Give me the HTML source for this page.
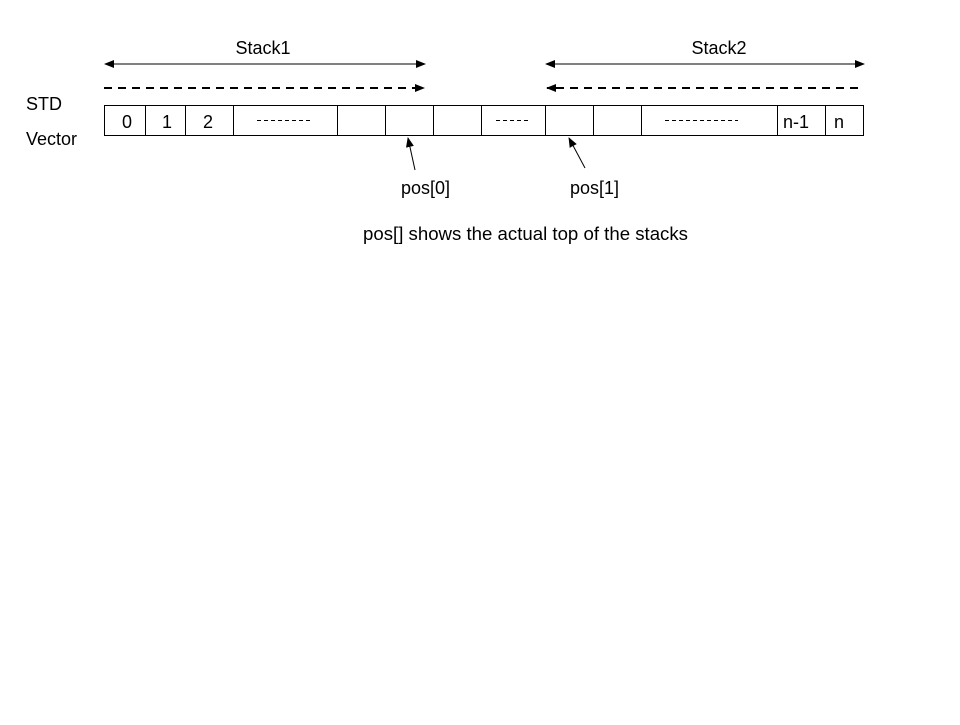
<!DOCTYPE html>
<html><head><style>body{margin:0;background:#fff}</style></head><body>
<svg width="960" height="720" xmlns="http://www.w3.org/2000/svg" font-family="Liberation Sans, Arial, sans-serif" font-size="18">
<defs>
<marker id="a" markerWidth="10" markerHeight="8" refX="9" refY="4" orient="auto-start-reverse" markerUnits="userSpaceOnUse"><path d="M0,0 L10,4 L0,8 z" fill="#000"/></marker>
</defs>
<rect width="960" height="720" fill="#fff"/>
<text x="263" y="54" text-anchor="middle">Stack1</text>
<text x="719" y="54" text-anchor="middle">Stack2</text>
<line x1="105" y1="64" x2="425" y2="64" stroke="#000" marker-start="url(#a)" marker-end="url(#a)"/>
<line x1="546" y1="64" x2="864" y2="64" stroke="#000" marker-start="url(#a)" marker-end="url(#a)"/>
<line x1="104" y1="88" x2="424" y2="88" stroke="#000" stroke-width="2" stroke-dasharray="8,6" marker-end="url(#a)"/>
<line x1="858" y1="88" x2="547" y2="88" stroke="#000" stroke-width="2" stroke-dasharray="8,6" marker-end="url(#a)"/>
<text x="26" y="110">STD</text>
<text x="26" y="145">Vector</text>
<rect x="104.5" y="105.5" width="759" height="30" fill="none" stroke="#000"/>
<g stroke="#000">
<line x1="145.5" y1="105" x2="145.5" y2="136"/><line x1="185.5" y1="105" x2="185.5" y2="136"/>
<line x1="233.5" y1="105" x2="233.5" y2="136"/><line x1="337.5" y1="105" x2="337.5" y2="136"/>
<line x1="385.5" y1="105" x2="385.5" y2="136"/><line x1="433.5" y1="105" x2="433.5" y2="136"/>
<line x1="481.5" y1="105" x2="481.5" y2="136"/><line x1="545.5" y1="105" x2="545.5" y2="136"/>
<line x1="593.5" y1="105" x2="593.5" y2="136"/><line x1="641.5" y1="105" x2="641.5" y2="136"/>
<line x1="777.5" y1="105" x2="777.5" y2="136"/><line x1="825.5" y1="105" x2="825.5" y2="136"/>
</g>
<text x="127" y="128" text-anchor="middle">0</text>
<text x="167" y="128" text-anchor="middle">1</text>
<text x="208" y="128" text-anchor="middle">2</text>
<text x="783" y="128">n-1</text>
<text x="834" y="128">n</text>
<g stroke="#000" stroke-dasharray="4,3"><line x1="257" y1="120.5" x2="310" y2="120.5"/><line x1="496" y1="120.5" x2="530" y2="120.5"/><line x1="665" y1="120.5" x2="738" y2="120.5"/></g>
<line x1="415" y1="170" x2="408" y2="138" stroke="#000" marker-end="url(#a)"/>
<line x1="585" y1="168" x2="569" y2="138" stroke="#000" marker-end="url(#a)"/>
<text x="401" y="194">pos[0]</text>
<text x="570" y="194">pos[1]</text>
<text x="363" y="240" textLength="325" lengthAdjust="spacingAndGlyphs">pos[] shows the actual top of the stacks</text>
</svg>
</body></html>
